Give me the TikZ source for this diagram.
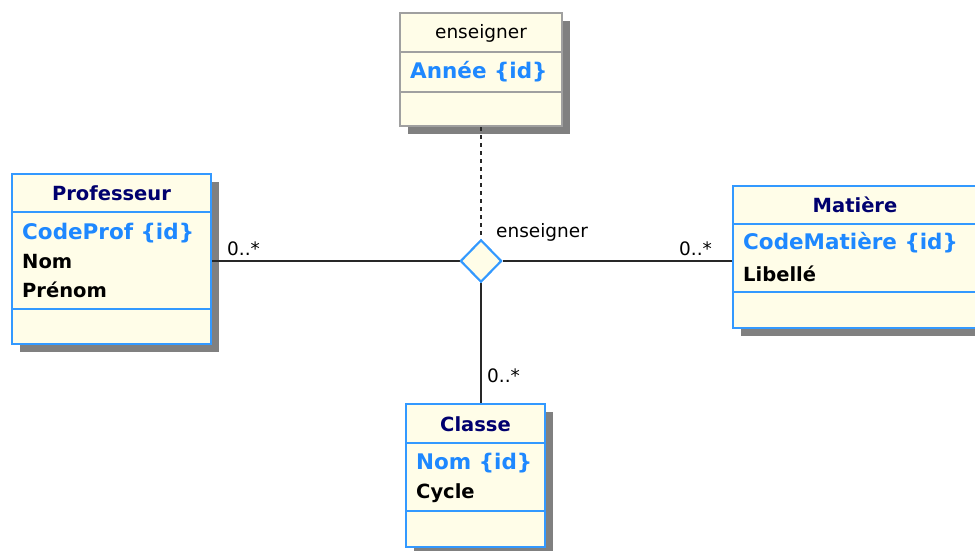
\documentclass[tikz,border=0pt]{standalone}
\usepackage{fontspec}
\setmainfont{DejaVu Sans}
\usetikzlibrary{shapes.geometric,shadows}
\definecolor{boxfill}{RGB}{255,253,232}
\definecolor{boxblue}{RGB}{51,153,255}
\definecolor{boxgray}{RGB}{160,160,160}
\definecolor{idblue}{RGB}{30,136,255}
\definecolor{navy}{RGB}{0,0,110}
\definecolor{shadowgray}{RGB}{128,128,128}
\definecolor{linegray}{RGB}{40,40,40}
\tikzset{
  classbox/.style={draw=boxblue, line width=2pt, fill=boxfill, rectangle, inner sep=0pt,
    drop shadow={shadow xshift=8pt, shadow yshift=-8pt, fill=shadowgray, opacity=1}},
  assocbox/.style={classbox, draw=boxgray},
  sepline/.style={draw=boxblue, line width=2pt},
  gsepline/.style={draw=boxgray, line width=2pt},
  titletext/.style={font=\bfseries\fontsize{19.5}{22}\selectfont, text=navy, inner sep=0pt},
  idtext/.style={font=\bfseries\fontsize{21.5}{24}\selectfont, text=idblue, anchor=west, inner sep=0pt},
  attrtext/.style={font=\bfseries\fontsize{19.5}{22}\selectfont, text=black, anchor=west, inner sep=0pt},
  plaintext/.style={font=\fontsize{18.5}{21}\selectfont, text=black, inner sep=0pt},
  conn/.style={draw=linegray, line width=2pt},
  relation/.style={diamond, draw=boxblue, line width=2pt, fill=boxfill, inner sep=0pt,
    minimum width=41pt, minimum height=42pt}
}
\begin{document}
\begin{tikzpicture}[x=1pt,y=-1pt]
\useasboundingbox (0,0) rectangle (975,551);
\clip (0,0) rectangle (975,551);
\fill[white] (0,0) rectangle (975,551);

% connectors first (under boxes)
\node[relation] (rel) at (481,261) {};

% Professeur
\node[classbox, minimum width=199pt, minimum height=170pt] (prof) at (111.5,259) {};
\draw[sepline] (12,212) -- (211,212);
\draw[sepline] (12,309) -- (211,309);
\node[titletext] (proft) at (111.5,193) {Professeur};
\node[idtext] (profa) at (22,233) {CodeProf \{id\}};
\node[attrtext] (profb) at (22,262) {Nom};
\node[attrtext] (profc) at (22,290) {Prénom};

% enseigner (association class)
\node[assocbox, minimum width=162pt, minimum height=113pt] (ens) at (481,69.5) {};
\draw[gsepline] (400,52) -- (562,52);
\draw[gsepline] (400,92) -- (562,92);
\node[plaintext] (enst) at (481,33) {enseigner};
\node[idtext] (ensa) at (410,72) {Année \{id\}};

% Matière
\node[classbox, minimum width=252pt, minimum height=142pt] (mat) at (859,257) {};
\draw[sepline] (733,224) -- (985,224);
\draw[sepline] (733,292) -- (985,292);
\node[titletext] (matt) at (855,205) {Matière};
\node[idtext] (mata) at (743,243) {CodeMatière \{id\}};
\node[attrtext] (matb) at (743,274) {Libellé};

% Classe
\node[classbox, minimum width=139pt, minimum height=143pt] (cls) at (475.5,475.5) {};
\draw[sepline] (406,443) -- (545,443);
\draw[sepline] (406,511) -- (545,511);
\node[titletext] (clst) at (475.5,424) {Classe};
\node[idtext] (clsa) at (416,463) {Nom \{id\}};
\node[attrtext] (clsb) at (416,493) {Cycle};

% connectors
\draw[conn] (prof.east |- rel.west) -- (rel.west);
\draw[conn] (rel.east) -- (mat.west |- rel.east);
\draw[conn] (rel.south) -- (rel.south |- cls.north);
\draw[conn, dash pattern=on 4pt off 4pt] (ens.south -| rel.north) -- (rel.north);
\node[relation] (rel2) at (rel) {};

% labels
\node[plaintext, anchor=west] (m1) at (227,249) {0..*};
\node[plaintext, anchor=west] (m2) at (679,249) {0..*};
\node[plaintext, anchor=west] (m3) at (487,376) {0..*};
\node[plaintext, anchor=west] (rlab) at (496,232) {enseigner};
\end{tikzpicture}
\end{document}
